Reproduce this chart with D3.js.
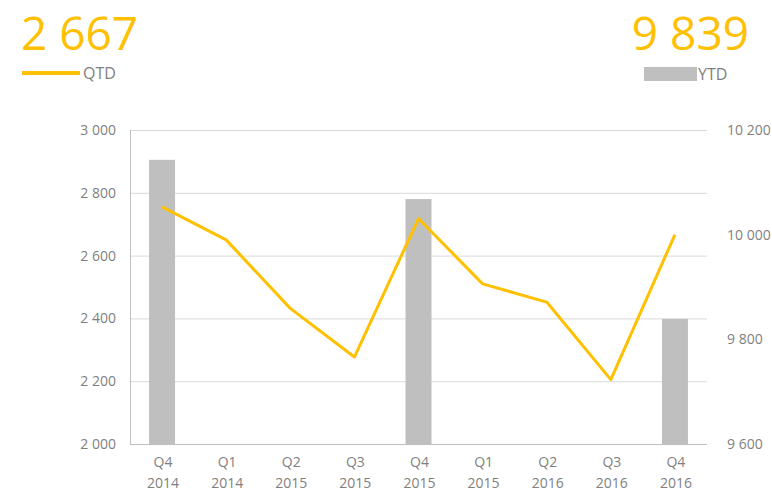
<!DOCTYPE html>
<html><head><meta charset="utf-8">
<script src="https://cdn.jsdelivr.net/npm/d3@7"></script>
<style>body{margin:0;background:#fff}svg{display:block}text{font-family:"Open Sans",sans-serif}</style>
</head><body><svg id="c" width="772" height="492"></svg>
<script>
const quarters = ["Q4","Q1","Q2","Q3","Q4","Q1","Q2","Q3","Q4"];
const years = ["2014","2014","2015","2015","2015","2015","2016","2016","2016"];
const qtd = [2755,2650,2432,2277,2718,2510,2452,2205,2667];
const ytd = [10143,null,null,null,10068,null,null,null,9839];
const leftTicks = [2000,2200,2400,2600,2800,3000];
const rightTicks = [9600,9800,10000,10200];
const headQTD = "2 667", headYTD = "9 839";

const svg = d3.select("#c");
const L=130,R=707,T=130,B=444;
const idx = d3.range(quarters.length);
const xc = d3.scaleBand().domain(idx).range([L,R]);
const yL = d3.scaleLinear().domain([2000,3000]).range([B,T]);
const yR = d3.scaleLinear().domain([9600,10200]).range([B,T]);
const fmt = v => d3.format(",")(v).replace(/,/g," ");
const gray="#7f7f7f";

svg.append("g").selectAll("line").data(leftTicks).join("line")
  .attr("x1",L).attr("x2",R).attr("y1",d=>yL(d)+0.5).attr("y2",d=>yL(d)+0.5)
  .attr("stroke","#d9d9d9").attr("stroke-width",1);

const bw = 26;
svg.append("g").selectAll("rect").data(idx.filter(i=>ytd[i]!=null)).join("rect")
  .attr("x",i=>xc(i)+xc.bandwidth()/2-bw/2).attr("width",bw)
  .attr("y",i=>yR(ytd[i])).attr("height",i=>B-yR(ytd[i]))
  .attr("fill","#bfbfbf");

svg.append("line").attr("x1",L+0.5).attr("x2",L+0.5).attr("y1",T).attr("y2",B).attr("stroke","#bfbfbf");
svg.append("line").attr("x1",L).attr("x2",R).attr("y1",B+0.5).attr("y2",B+0.5).attr("stroke","#bfbfbf");

svg.append("path").datum(idx)
  .attr("d",d3.line().x(i=>xc(i)+xc.bandwidth()/2).y(i=>yL(qtd[i])))
  .attr("fill","none").attr("stroke","#ffc000").attr("stroke-width",3).attr("stroke-linejoin","round");

svg.append("g").selectAll("text").data(leftTicks).join("text")
  .attr("x",116).attr("y",d=>yL(d)+5).attr("text-anchor","end")
  .attr("font-size",14).attr("fill",gray).text(fmt);
svg.append("g").selectAll("text").data(rightTicks).join("text")
  .attr("x",727).attr("y",d=>yR(d)+5).attr("text-anchor","start")
  .attr("font-size",14).attr("fill",gray).text(fmt);
const xg = svg.append("g");
xg.selectAll("text.q").data(idx).join("text").attr("class","q")
  .attr("x",i=>xc(i)+xc.bandwidth()/2+1).attr("y",467).attr("text-anchor","middle")
  .attr("font-size",14).attr("fill",gray).text(i=>quarters[i]);
xg.selectAll("text.y").data(idx).join("text").attr("class","y")
  .attr("x",i=>xc(i)+xc.bandwidth()/2+1).attr("y",488).attr("text-anchor","middle")
  .attr("font-size",14).attr("fill",gray).text(i=>years[i]);

svg.append("text").attr("x",21).attr("y",50).attr("font-size",46).attr("fill","#ffc000").text(headQTD);
svg.append("text").attr("x",749).attr("y",50).attr("text-anchor","end").attr("font-size",46).attr("fill","#ffc000").text(headYTD);

svg.append("line").attr("x1",22).attr("x2",80).attr("y1",73).attr("y2",73).attr("stroke","#ffc000").attr("stroke-width",4);
svg.append("text").attr("x",83).attr("y",79).attr("font-size",16).attr("fill",gray).text("QTD");
svg.append("rect").attr("x",644).attr("y",67).attr("width",53).attr("height",14).attr("fill","#bfbfbf");
svg.append("text").attr("x",698).attr("y",80).attr("font-size",16).attr("fill",gray).text("YTD");
</script></body></html>
